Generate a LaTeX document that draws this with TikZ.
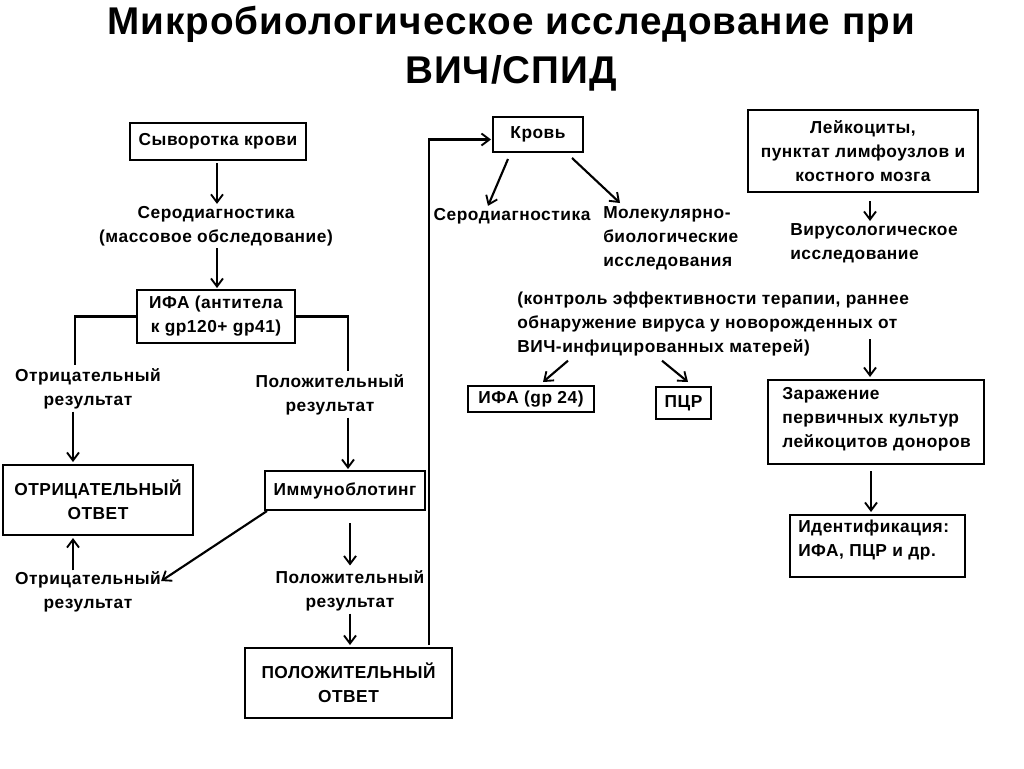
\documentclass[tikz,border=0pt]{standalone}
\usepackage{fontspec}
\setmainfont{Liberation Sans}[LetterSpace=3]
\newfontfamily\titlefam{Liberation Sans}[LetterSpace=2.6]
\usetikzlibrary{arrows.meta}
\newcommand\bodyfnt{\bfseries\fontsize{13}{18}\selectfont}
\newcommand\bigfnt{\bfseries\fontsize{13}{18}\selectfont}
\newcommand\titlefnt{\titlefam\bfseries\fontsize{29}{34}\selectfont}
\begin{document}
\begin{tikzpicture}[x=0.75pt,y=-0.75pt,
  box/.style={draw,line width=1.5pt,inner sep=0pt,font=\bodyfnt,align=center},
  lbl/.style={inner sep=0pt,font=\bodyfnt,align=center},
  ttl/.style={inner sep=0pt,font=\titlefnt,anchor=base},
  conn/.style={line width=1.6pt,-{Straight Barb[length=6pt,width=9pt,line width=1.4pt]}},
  ln/.style={line width=1.6pt}]
\useasboundingbox[fill=white] (0,0) rectangle (1024,768);
% title
\node[ttl] (title1) at (511,34) {Микробиологическое исследование при};
\node[ttl] (title2) at (511,83) {ВИЧ/СПИД};
% boxes
\node[box,minimum width=132pt,minimum height=27.75pt] (syv) at (218,141.5) {Сыворотка крови};
\node[box,minimum width=118.5pt,minimum height=39.75pt] (ifa) at (216,316.5) {ИФА (антитела\\к gp120+ gp41)};
\node[box,font=\bigfnt,minimum width=142.5pt,minimum height=52.5pt] (otrbox) at (98,500) {ОТРИЦАТЕЛЬНЫЙ\\ОТВЕТ};
\node[box,minimum width=120pt,minimum height=29.25pt] (immuno) at (345,490.5) {Иммуноблотинг};
\node[box,font=\bigfnt,minimum width=155.25pt,minimum height=52.5pt] (polbox) at (348.5,683) {ПОЛОЖИТЕЛЬНЫЙ\\ОТВЕТ};
\node[box,minimum width=67.5pt,minimum height=26.25pt] (krov) at (538,134.5) {Кровь};
\node[box,minimum width=94.5pt,minimum height=19.5pt] (ifa24) at (531,399) {ИФА (gp 24)};
\node[box,minimum width=41.25pt,minimum height=24pt] (pcr) at (683.5,403) {ПЦР};
\node[box,minimum width=172.5pt,minimum height=61.5pt] (leik) at (863,151) {Лейкоциты,\\пунктат лимфоузлов и\\костного мозга};
\node[box,minimum width=162pt,minimum height=63pt] (zar) at (876,422) {};
\node[lbl,align=left,anchor=west] (zart) at (782,419) {Заражение\\первичных культур\\лейкоцитов доноров};
\node[box,minimum width=131.25pt,minimum height=46.5pt] (ident) at (877.5,546) {};
\node[lbl,align=left,anchor=west] (identt) at (798,540) {Идентификация:\\ИФА, ПЦР и др.};
% labels
\node[lbl] (serod1) at (216,226) {Серодиагностика\\(массовое обследование)};
\node[lbl] (otrl1) at (88,389) {Отрицательный\\результат};
\node[lbl] (poll1) at (330,395) {Положительный\\результат};
\node[lbl] (otrl2) at (88,592) {Отрицательный\\результат};
\node[lbl] (poll2) at (350,591) {Положительный\\результат};
\node[lbl] (serod2) at (512,216) {Серодиагностика};
\node[lbl,align=left,anchor=north west] (mol) at (603,206) {Молекулярно-\\биологические\\исследования};
\node[lbl,align=left,anchor=north west] (kontr) at (517,292) {(контроль эффективности терапии, раннее\\обнаружение вируса у новорожденных от\\ВИЧ-инфицированных матерей)};
\node[lbl,align=left,anchor=north west] (viru) at (790,223) {Вирусологическое\\исследование};
% connectors
\draw[conn] ([shift={(-1,2)}]syv.south) -- ([shift={(1,-2)}]serod1.north);
\draw[conn] ([shift={(1,2)}]serod1.south) -- ([shift={(1,-1)}]ifa.north);
\draw[ln] (ifa.west) -| ([shift={(-13,-3)}]otrl1.north);
\draw[ln] (ifa.east) -| ([shift={(18,-3)}]poll1.north);
\draw[conn] ([shift={(-15,2)}]otrl1.south) -- ([shift={(-25,-2)}]otrbox.north);
\draw[conn] ([shift={(18,2)}]poll1.south) -- ([shift={(3,-1)}]immuno.north);
\draw[conn] ([shift={(3,0)}]immuno.south west) -- ([shift={(0,-11)}]otrl2.east);
\draw[conn] ([shift={(-15,-1)}]otrl2.north) -- ([shift={(-25,2)}]otrbox.south);
\draw[conn] ([shift={(5,12)}]immuno.south) -- ([shift={(0,-5)}]poll2.north);
\draw[conn] ([shift={(0,2)}]poll2.south) -- ([shift={(1.5,-2)}]polbox.north);
\draw[conn] ([shift={(185,-2)}]polbox.north west) |- ([shift={(-1,5)}]krov.west);
\draw[conn] ([shift={(-30,6)}]krov.south) -- ([shift={(-24,-2)}]serod2.north);
\draw[conn] ([shift={(34,5)}]krov.south) -- ([shift={(17,-3)}]mol.north west);
\draw[conn] ([shift={(51,4)}]kontr.south west) -- ([shift={(12,-3)}]ifa24.north);
\draw[conn] ([shift={(145,4)}]kontr.south west) -- ([shift={(4.5,-4)}]pcr.north);
\draw[conn] ([shift={(7,8)}]leik.south) -- ([shift={(80,-2)}]viru.north west);
\draw[conn] ([shift={(-6,-40)}]zar.north) -- ([shift={(-6,-2)}]zar.north);
\draw[conn] ([shift={(-5,6)}]zar.south) -- ([shift={(-6.5,-2)}]ident.north);
\end{tikzpicture}
\end{document}
